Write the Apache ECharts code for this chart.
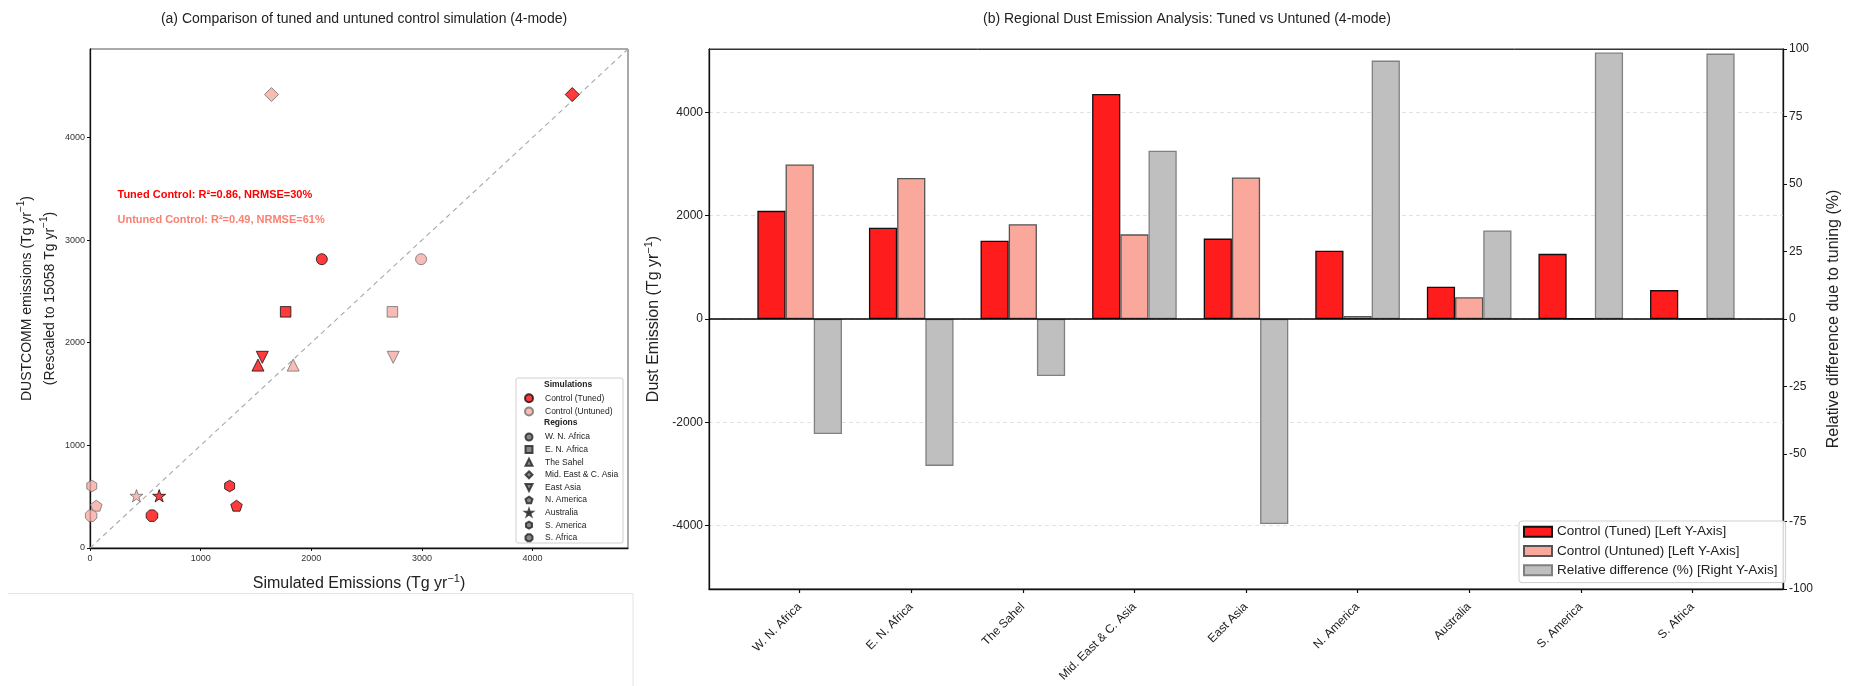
<!DOCTYPE html>
<html><head><meta charset="utf-8">
<script src="https://cdn.jsdelivr.net/npm/echarts@6/dist/echarts.min.js"></script>
<style>html,body{margin:0;padding:0;background:#fff}#c{width:1850px;height:686px}</style>
</head><body><div id="c"></div>
<script>
// ---------------- data ----------------
const regions = ['W. N. Africa','E. N. Africa','The Sahel','Mid. East & C. Asia','East Asia','N. America','Australia','S. America','S. Africa'];
const tunedEmission   = [2095, 1768, 1518, 4358, 1557, 1324, 625, 1262, 560];
const untunedEmission = [2992, 2733, 1836, 1640, 2740, 57, 420, 16, 10];
const observedEmission = [2814, 2301, 1782, 4418, 1858, 412, 509, 604, 315];
const relativeDiff = [-42.6, -54.4, -21.1, 62.3, -75.9, 95.7, 32.8, 98.7, 98.3];
const scatterTicks = [0, 1000, 2000, 3000, 4000];
const statsTuned = 'Tuned Control: R²=0.86, NRMSE=30%';
const statsUntuned = 'Untuned Control: R²=0.49, NRMSE=61%';

// ---------------- marker shapes ----------------
function polyPath(n, startDeg, innerR) {
  const pts = [];
  const count = innerR ? n * 2 : n;
  for (let k = 0; k < count; k++) {
    const r = innerR ? (k % 2 === 0 ? 1 : innerR) : 1;
    const a = (startDeg + k * 360 / count) * Math.PI / 180;
    pts.push(((1 + r * Math.cos(a)) * 50).toFixed(2) + ',' + ((1 + r * Math.sin(a)) * 50).toFixed(2));
  }
  return 'path://M' + pts.join('L') + 'Z';
}
const regionSymbol = [
  'circle', 'rect', 'triangle', 'diamond',
  'path://M0,0L100,0L50,100Z',
  polyPath(5, -90),
  polyPath(5, -90, 0.382),
  polyPath(6, -90),
  polyPath(8, -67.5)
];
const regionSize = [11, 10.5, 12, 14, 12, 11.5, 13, 11.5, 11.5];

const FONT = "'Liberation Sans', Arial, sans-serif";
const scatterMax = 4862;

function richName(lines) {
  return lines.map(l => '{a|' + l + '}{s|−1}{a|)}').join('\n');
}
function richStyle(size, lh) {
  return {
    fontFamily: FONT,
    rich: {
      a: { fontSize: size, lineHeight: lh, color: '#222', fontFamily: FONT },
      s: { fontSize: Math.round(size * 0.68), lineHeight: Math.round(size * 0.68), verticalAlign: 'top', color: '#222', fontFamily: FONT }
    }
  };
}

const chart = echarts.init(document.getElementById('c'), null, { renderer: 'canvas' });

const regionDummySeries = regions.map((r, i) => ({
  name: r, type: 'scatter', xAxisIndex: 0, yAxisIndex: 0, data: [],
  symbol: regionSymbol[i], symbolKeepAspect: true,
  itemStyle: { color: '#6a6a6a', borderColor: '#222', borderWidth: 1 }
}));

const option = {
  animation: false,
  backgroundColor: '#fff',
  textStyle: { fontFamily: FONT },
  title: [
    { text: '(a) Comparison of tuned and untuned control simulation (4-mode)', left: 359, top: 7, textAlign: 'center',
      textStyle: { fontSize: 14, fontWeight: 'normal', color: '#222', fontFamily: FONT } },
    { text: '(b) Regional Dust Emission Analysis: Tuned vs Untuned (4-mode)', left: 1182, top: 7, textAlign: 'center',
      textStyle: { fontSize: 14, fontWeight: 'normal', color: '#222', fontFamily: FONT } }
  ],
  grid: [
    { left: 90, top: 49, width: 538, height: 499, show: true, borderColor: '#555', borderWidth: 1, backgroundColor: '#fff' },
    { left: 709, top: 49, width: 1086, height: 540, show: true, borderColor: '#333', borderWidth: 1, backgroundColor: '#fff' }
  ],
  xAxis: [
    { type: 'value', gridIndex: 0, min: 0, max: scatterMax, interval: 1000,
      name: richName(['Simulated Emissions (Tg yr']), nameLocation: 'middle', nameGap: 25, nameMoveOverlap: false,
      nameTextStyle: richStyle(16, 22),
      axisLine: { show: true, onZero: false, lineStyle: { color: '#111', width: 1.3 } },
      axisTick: { show: true, length: 3, lineStyle: { color: '#111' } },
      axisLabel: { fontSize: 9, color: '#333', margin: 6, showMaxLabel: false, formatter: v => String(v) },
      splitLine: { show: false } },
    { type: 'value', gridIndex: 1, min: -0.8125, max: 8.8125,
      axisLine: { show: true, onZero: false, lineStyle: { color: '#111', width: 1.3 } },
      axisTick: { show: true, length: 4, customValues: regions.map((r, i) => i), lineStyle: { color: '#111', width: 1.2 } },
      axisLabel: { customValues: regions.map((r, i) => i), rotate: 45, fontSize: 12, color: '#222', margin: 16,
        formatter: v => regions[Math.round(v)] },
      splitLine: { show: false } },
    { type: 'value', gridIndex: 1, position: 'top', min: 0, max: 1,
      axisLine: { show: true, onZero: false, lineStyle: { color: '#333', width: 1 } },
      axisTick: { show: false }, axisLabel: { show: false }, splitLine: { show: false } }
  ],
  yAxis: [
    { type: 'value', gridIndex: 0, min: 0, max: scatterMax, interval: 1000,
      name: richName(['DUSTCOMM emissions (Tg yr', '(Rescaled to 15058 Tg yr']), nameLocation: 'middle', nameGap: 28, nameRotate: 90, nameMoveOverlap: false,
      nameTextStyle: richStyle(14, 23),
      axisLine: { show: true, onZero: false, lineStyle: { color: '#111', width: 1.3 } },
      axisTick: { show: true, length: 3, lineStyle: { color: '#111' } },
      axisLabel: { fontSize: 9, color: '#333', margin: 5, showMaxLabel: false, formatter: v => String(v) },
      splitLine: { show: false } },
    { type: 'value', gridIndex: 1, min: -5230, max: 5230, splitNumber: 5,
      name: richName(['Dust Emission (Tg yr']), nameLocation: 'middle', nameGap: 44, nameRotate: 90, nameMoveOverlap: false,
      nameTextStyle: richStyle(16, 22),
      axisLine: { show: true, onZero: false, lineStyle: { color: '#111', width: 1.3 } },
      axisTick: { show: true, length: 4, lineStyle: { color: '#111' } },
      axisLabel: { fontSize: 12, color: '#222', margin: 6, showMinLabel: false, showMaxLabel: false, formatter: v => String(v) },
      splitLine: { show: true, lineStyle: { color: '#e2e2e2', type: [4, 3], width: 1 } } },
    { type: 'value', gridIndex: 1, min: -100, max: 100, interval: 25, position: 'right',
      name: '{a|Relative difference due to tuning (%)}', nameLocation: 'middle', nameGap: 40, nameRotate: 90, nameMoveOverlap: false,
      nameTextStyle: richStyle(16, 22),
      axisLine: { show: true, onZero: false, lineStyle: { color: '#111', width: 1.3 } },
      axisTick: { show: true, length: 4, lineStyle: { color: '#111' } },
      axisLabel: { fontSize: 12, color: '#222', margin: 6, formatter: v => String(v) },
      splitLine: { show: false } }
  ],
  legend: [
    { data: ['Control (Tuned)', 'Control (Untuned)'], orient: 'vertical', left: 524, top: 393.3, padding: 0,
      itemWidth: 8, itemHeight: 8, itemGap: 3.2, selectedMode: false,
      textStyle: { fontSize: 8.5, color: '#222', fontFamily: FONT, padding: [0, 0, 0, 7] } },
    { data: regions.slice(), orient: 'vertical', left: 524.5, top: 432.5, padding: 0,
      itemWidth: 7, itemHeight: 7, itemGap: 3.6, selectedMode: false,
      textStyle: { fontSize: 8.5, color: '#222', fontFamily: FONT, padding: [0, 0, 0, 7.5] } },
    { data: ['Control (Tuned) [Left Y-Axis]', 'Control (Untuned) [Left Y-Axis]', 'Relative difference (%) [Right Y-Axis]'],
      orient: 'vertical', left: 1519, top: 521, padding: [3.2, 8, 4.8, 4],
      itemWidth: 28, itemHeight: 10, itemGap: 4.3, icon: 'rect', selectedMode: false,
      backgroundColor: 'rgba(255,255,255,0.85)', borderColor: '#cfcfcf', borderWidth: 1, borderRadius: 3,
      textStyle: { fontSize: 13.5, color: '#222', lineHeight: 15, fontFamily: FONT } }
  ],
  graphic: [
    { type: 'line', shape: { x1: 8, y1: 593.5, x2: 633, y2: 593.5 }, style: { stroke: '#e4e4e4', lineWidth: 1 }, silent: true },
    { type: 'line', shape: { x1: 633, y1: 593.5, x2: 633, y2: 686 }, style: { stroke: '#e4e4e4', lineWidth: 1 }, silent: true },
    { type: 'rect', shape: { x: 516, y: 378, width: 107, height: 165, r: 2 }, z: 0,
      style: { fill: 'rgba(255,255,255,0.9)', stroke: '#d0d0d0', lineWidth: 1 }, silent: true },
    { type: 'text', x: 544, y: 384.5, z: 5, silent: true,
      style: { text: 'Simulations', fontSize: 8.5, fontWeight: 'bold', fill: '#222', textVerticalAlign: 'middle', fontFamily: FONT } },
    { type: 'text', x: 544, y: 423, z: 5, silent: true,
      style: { text: 'Regions', fontSize: 8.5, fontWeight: 'bold', fill: '#222', textVerticalAlign: 'middle', fontFamily: FONT } },
    { type: 'text', x: 117.5, y: 195, z: 5, silent: true,
      style: { text: statsTuned, fontSize: 11, fontWeight: 'bold', fill: '#ff0000', textVerticalAlign: 'middle', fontFamily: FONT } },
    { type: 'text', x: 117.5, y: 220, z: 5, silent: true,
      style: { text: statsUntuned, fontSize: 11, fontWeight: 'bold', fill: '#fa8072', textVerticalAlign: 'middle', fontFamily: FONT } }
  ],
  series: [
    { name: '1:1', type: 'line', xAxisIndex: 0, yAxisIndex: 0, data: [[0, 0], [scatterMax, scatterMax]],
      symbol: 'none', silent: true, z: 1, lineStyle: { color: '#a8a8a8', width: 1.1, type: [5, 4] } },
    { name: 'Control (Untuned)', type: 'scatter', xAxisIndex: 0, yAxisIndex: 0, symbol: 'circle', symbolKeepAspect: true, z: 3,
      itemStyle: { color: '#f6aaa3', borderColor: '#707070', borderWidth: 1 },
      data: regions.map((r, i) => ({ name: r, value: [untunedEmission[i], observedEmission[i]], symbol: regionSymbol[i], symbolSize: regionSize[i] })) },
    { name: 'Control (Tuned)', type: 'scatter', xAxisIndex: 0, yAxisIndex: 0, symbol: 'circle', symbolKeepAspect: true, z: 4,
      itemStyle: { color: '#ff0a0a', borderColor: '#111', borderWidth: 1 },
      data: regions.map((r, i) => ({ name: r, value: [tunedEmission[i], observedEmission[i]], symbol: regionSymbol[i], symbolSize: regionSize[i] })) },
    ...regionDummySeries,
    { name: 'Control (Tuned) [Left Y-Axis]', type: 'bar', xAxisIndex: 1, yAxisIndex: 1, barWidth: 28.2, barGap: '0%',
      data: regions.map((r, i) => [i, tunedEmission[i]]),
      itemStyle: { color: '#ff1c1c', borderColor: '#111', borderWidth: 1.3 },
      markLine: { silent: true, symbol: 'none', label: { show: false }, z: 10,
        lineStyle: { color: '#000', width: 1.6, type: 'solid' }, data: [{ yAxis: 0 }] } },
    { name: 'Control (Untuned) [Left Y-Axis]', type: 'bar', xAxisIndex: 1, yAxisIndex: 1, barWidth: 28.2, barGap: '0%',
      data: regions.map((r, i) => [i, untunedEmission[i]]),
      itemStyle: { color: '#faa79c', borderColor: '#555', borderWidth: 1.3 } },
    { name: 'Relative difference (%) [Right Y-Axis]', type: 'bar', xAxisIndex: 1, yAxisIndex: 2, barWidth: 28.2, barGap: '0%',
      data: regions.map((r, i) => [i, relativeDiff[i]]),
      itemStyle: { color: '#bfbfbf', borderColor: '#808080', borderWidth: 1.3 } }
  ]
};
chart.setOption(option);
</script></body></html>
